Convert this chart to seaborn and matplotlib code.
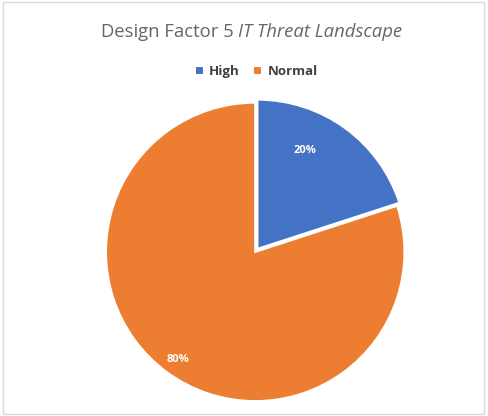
import matplotlib
matplotlib.use("Agg")
import matplotlib.pyplot as plt
import seaborn as sns
from matplotlib.patches import Rectangle

categories = ["High", "Normal"]
shares = [20, 80]
colors = ["#4472C4", "#ED7D31"]

sns.set_theme(style="white")
plt.rcParams["font.family"] = ["Open Sans", "DejaVu Sans"]

fig = plt.figure(figsize=(4.88, 4.16), dpi=100)
fig.patch.set_facecolor("white")

# light frame around the chart area
fig.add_artist(Rectangle((0.006, 0.006), 0.986, 0.988, transform=fig.transFigure,
                         fill=False, edgecolor="#D9D9D9", linewidth=1.0))

ax = fig.add_axes([0.208, 0.025, 0.63, 0.739])
wedges, texts, autotexts = ax.pie(
    shares, colors=colors, startangle=90, counterclock=False,
    explode=[0.025, 0], autopct="%d%%", pctdistance=0.8,
    wedgeprops=dict(edgecolor="white", linewidth=1.5),
    textprops=dict(color="white", fontsize=8, fontweight="bold"),
)
autotexts[0].set_position((0.33, 0.68))
autotexts[1].set_position((-0.52, -0.72))
ax.set_xlim(-1.03, 1.03)
ax.set_ylim(-1.03, 1.03)
ax.set_aspect("equal")

# title: plain part followed by italic part, centred as one line
title_x = 0.516
t1 = fig.text(title_x, 0.922, "Design Factor 5 ", ha="right", va="center",
              fontsize=13.3, color="#666666")
fig.canvas.draw()
r = fig.canvas.get_renderer()
w1 = t1.get_window_extent(r).width / fig.bbox.width
t2 = fig.text(title_x, 0.922, "IT Threat Landscape", ha="left", va="center",
              fontsize=13.3, color="#666666", style="italic")
w2 = t2.get_window_extent(r).width / fig.bbox.width
shift = (w1 - w2) / 2
t1.set_x(title_x + shift)
t2.set_x(title_x + shift)

fig.legend(wedges, categories, loc="center", bbox_to_anchor=(0.525, 0.827),
           ncol=2, frameon=False, handlelength=0.7, handleheight=0.7,
           columnspacing=1.0, handletextpad=0.4,
           prop=dict(weight="bold", size=9.5))
for txt in fig.legends[0].get_texts():
    txt.set_color("#404040")

fig.savefig("out.png", dpi=100, facecolor="white")
